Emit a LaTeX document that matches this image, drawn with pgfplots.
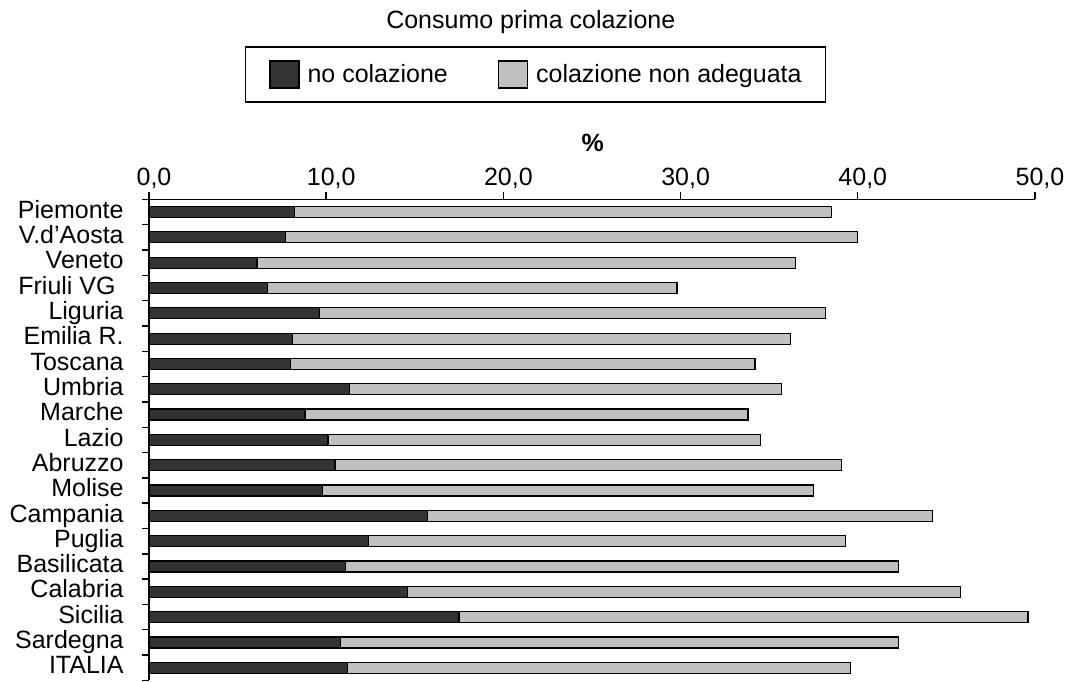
\documentclass[border=0pt]{standalone}
\usepackage{pgfplots}
\pgfplotsset{compat=1.18}
\usepackage{pgfplotstable}
\usepackage{fontspec}
\setmainfont{Liberation Sans}
\definecolor{scuro}{RGB}{51,51,51}
\definecolor{chiaro}{RGB}{192,192,192}
\newcommand\fs{\fontsize{12.5}{15}\selectfont}

\pgfplotsset{
  quadrato/.style={legend image code/.code={
    \draw[##1, line width=0.6pt] (0pt,-6.75pt) rectangle (14.5pt,6.75pt);}},
}

% y: 18 = Piemonte ... 0 = ITALIA
\pgfplotstableread{
y  dark  light
18 8.2   30.3
17 7.7   32.3
16 6.1   30.4
15 6.7   23.1
14 9.6   28.6
13 8.1   28.1
12 8.0   26.2
11 11.3  24.4
10 8.8   25.0
9  10.1  24.4
8  10.5  28.6
7  9.8   27.7
6  15.7  28.5
5  12.4  26.9
4  11.1  31.2
3  14.6  31.2
2  17.5  32.1
1  10.8  31.5
0  11.2  28.4
}\colazione

\begin{document}
\begin{tikzpicture}
\useasboundingbox (-74.5pt,-0.3pt) rectangle (461pt,340.2pt);
\begin{axis}[
  at={(0,0)}, anchor=south west,
  scale only axis, width=443pt, height=240.5pt,
  xbar stacked, bar width=0.435,
  xmin=0, xmax=50, ymin=-0.5, ymax=18.5,
  enlargelimits=false,
  axis x line*=top, axis y line*=left,
  axis line style={line width=0.9pt},
  xtick={0,10,...,50},
  ytick={-0.5,0.5,...,18.5},
  y tick label as interval,
  yticklabels={ITALIA,Sardegna,Sicilia,Calabria,Basilicata,Puglia,Campania,Molise,Abruzzo,Lazio,Marche,Umbria,Toscana,Emilia R.,Liguria,Friuli VG\hspace*{4pt},Veneto,V.d'Aosta,Piemonte},
  tick align=outside,
  major tick length=3.5pt,
  tick style={black, line width=0.7pt},
  tick label style={font=\fs},
  /pgf/number format/fixed,
  /pgf/number format/fixed zerofill,
  /pgf/number format/precision=1,
  /pgf/number format/use comma,
  /pgf/number format/assume math mode=true,
  xticklabel style={inner sep=0pt, anchor=base, xshift=2.5pt, yshift=3.5pt},
  yticklabel style={inner sep=0pt, anchor=base east, yshift=-3.1pt, xshift=-9pt},
  xlabel={\textbf{\%}},
  xlabel style={at={(axis description cs:0.5008,1.0996)}, anchor=base, font=\fs},
  every axis title shift=0pt,
  title={Consumo prima colazione},
  title style={at={(axis description cs:0.4309,1.3563)}, anchor=base, font=\fs},
  legend columns=2,
  legend style={at={(axis description cs:0.4362,1.2597)}, anchor=center,
    draw=black, line width=0.8pt, inner xsep=12pt, inner ysep=6.8pt,
    font=\fs, nodes={inner sep=0pt, anchor=west},
    /tikz/every odd column/.append style={column sep=4pt},
    /tikz/every even column/.append style={column sep=25pt}},
]
\addplot[fill=scuro, draw=black, line width=0.6pt, quadrato] table[x=dark, y=y] {\colazione};
\addplot[fill=chiaro, draw=black, line width=0.6pt, quadrato] table[x=light, y=y] {\colazione};
\legend{no colazione, colazione non adeguata}
\end{axis}
\end{tikzpicture}
\end{document}
